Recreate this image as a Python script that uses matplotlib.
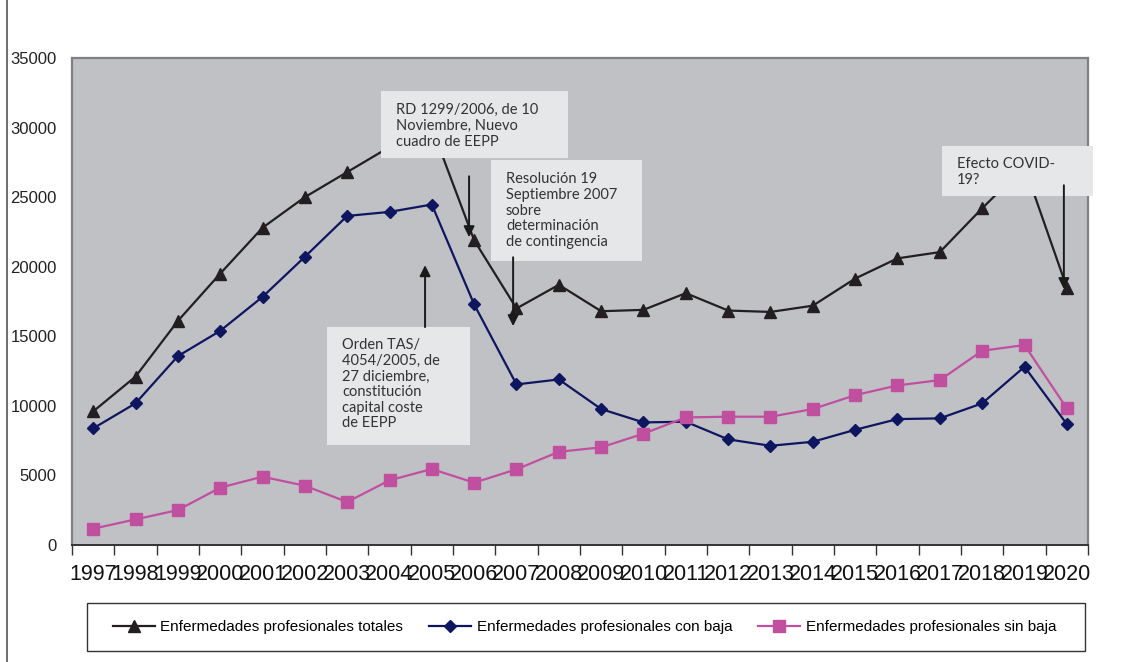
import matplotlib
matplotlib.use('Agg')
import matplotlib.pyplot as plt
from matplotlib.patches import Rectangle
from matplotlib.lines import Line2D

plt.rcParams['font.family'] = ['Liberation Sans', 'DejaVu Sans']

years = ['1997', '1998', '1999', '2000', '2001', '2002', '2003', '2004',
         '2005', '2006', '2007', '2008', '2009', '2010', '2011', '2012',
         '2013', '2014', '2015', '2016', '2017', '2018', '2019', '2020']

totales = [9600, 12100, 16100, 19500, 22800, 25000, 26800, 28600,
           30000, 21900, 17000, 18700, 16800, 16900, 18100, 16850,
           16750, 17200, 19150, 20600, 21050, 24200, 27200, 18500]

con_baja = [8380, 10180, 13570, 15390, 17830, 20710, 23650, 23940,
            24470, 17290, 11540, 11900, 9770, 8810, 8860, 7590,
            7130, 7420, 8280, 9050, 9100, 10180, 12810, 8690]

sin_baja = [1170, 1840, 2510, 4120, 4910, 4260, 3090, 4650,
            5460, 4480, 5440, 6700, 7020, 8000, 9170, 9220,
            9220, 9770, 10770, 11470, 11850, 13960, 14370, 9820]

series_names = ['Enfermedades profesionales totales',
                'Enfermedades profesionales con baja',
                'Enfermedades profesionales sin baja']

# notes: (text, box x0, x1, y0, y1, text x, text top)
notes = [
    ('RD 1299/2006, de 10\nNoviembre, Nuevo\ncuadro de EEPP', 6.80, 11.22, 27820, 32610, 7.15, 31744),
    ('Resolución 19\nSeptiembre 2007\nsobre\ndeterminación\nde contingencia', 9.40, 12.97, 20420, 27650, 9.75, 26789),
    ('Orden TAS/\n4054/2005, de\n27 diciembre,\nconstitución\ncapital coste\nde EEPP', 5.52, 8.90, 7200, 15660, 5.88, 14867),
    ('Efecto COVID-\n19?', 20.05, 23.62, 25090, 28660, 20.41, 27866),
]
# arrows: (x, start y, tip y)
arrows = [(8.88, 26500, 22120), (9.92, 20680, 15730),
          (7.84, 15660, 20110), (22.93, 25855, 18390)]

fig = plt.figure(figsize=(11.26, 6.62), dpi=100)
ax = fig.add_axes([72 / 1126, 117 / 662, 1016 / 1126, 487 / 662])
ax.set_facecolor('#c0c1c5')

x = list(range(len(years)))
ax.plot(x, totales, color='#231f20', lw=1.6, marker='^', ms=8.5, label=series_names[0], zorder=3)
ax.plot(x, con_baja, color='#0f1660', lw=1.6, marker='D', ms=6, label=series_names[1], zorder=3)
ax.plot(x, sin_baja, color='#c04fa0', lw=1.6, marker='s', ms=8, label=series_names[2], zorder=3)

ax.set_xlim(-0.5, len(years) - 0.5)
ax.set_ylim(0, 35000)
ax.set_yticks(range(0, 35001, 5000))
ax.tick_params(axis='y', length=0, pad=11, labelsize=12, labelcolor='#222222')
ax.set_xticks(x)
ax.set_xticklabels(years)
ax.tick_params(axis='x', which='major', length=0, pad=14, labelsize=15.5, labelcolor='#111111')
ax.set_xticks([i - 0.5 for i in range(len(years) + 1)], minor=True)
ax.tick_params(axis='x', which='minor', length=7, width=1, color='#333333', direction='out')

for side in ['top', 'right', 'left']:
    ax.spines[side].set_color('#808080')
    ax.spines[side].set_linewidth(1.6)
ax.spines['bottom'].set_color('#333333')
ax.spines['bottom'].set_linewidth(1.4)

for txt, x0, x1, y0, y1, tx, ty in notes:
    ax.add_patch(Rectangle((x0, y0), x1 - x0, y1 - y0, facecolor='#e6e7e9',
                           edgecolor='none', zorder=4, clip_on=False))
    ax.text(tx, ty, txt, family=['Lato', 'DejaVu Sans'], fontsize=10.5, color='#333333',
            va='top', ha='left', linespacing=1.15, zorder=5)

for ax_x, y_start, y_tip in arrows:
    ax.annotate('', xy=(ax_x, y_tip), xytext=(ax_x, y_start),
                arrowprops=dict(arrowstyle='-|>', color='#1a1a1a', lw=1.4,
                                mutation_scale=16, shrinkA=0, shrinkB=0),
                zorder=6)

# legend box drawn separately, entries placed inside it
fig.add_artist(Rectangle((87 / 1126, 11 / 662), 998 / 1126, 48 / 662,
                         transform=fig.transFigure, facecolor='white',
                         edgecolor='#333333', lw=1.0))
fig.legend(loc='center left', ncol=3, bbox_to_anchor=(113 / 1126, 35 / 662),
           fontsize=11, frameon=False, handlelength=2.75, handletextpad=0.35,
           columnspacing=1.7, borderpad=0, borderaxespad=0)

fig.add_artist(Line2D([7 / 1126, 7 / 1126], [0, 1], color='#555555', lw=1.2))

fig.savefig('out.png', dpi=100)
